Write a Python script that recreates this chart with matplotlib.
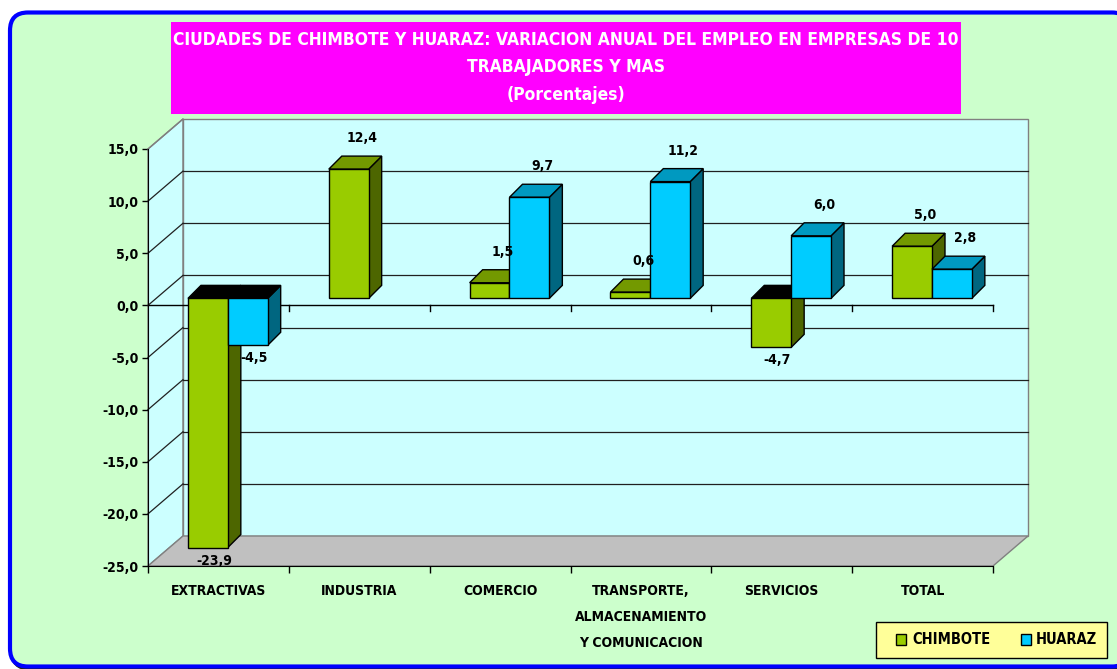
import matplotlib
matplotlib.use('Agg')
import matplotlib.pyplot as plt
from matplotlib import font_manager
from matplotlib.patches import FancyBboxPatch, Polygon, Rectangle
from matplotlib.ticker import FuncFormatter

# Data
categorias = ['EXTRACTIVAS', 'INDUSTRIA', 'COMERCIO',
              'TRANSPORTE,\nALMACENAMIENTO\nY COMUNICACION', 'SERVICIOS', 'TOTAL']
chimbote = [-23.9, 12.4, 1.5, 0.6, -4.7, 5.0]
huaraz = [-4.5, None, 9.7, 11.2, 6.0, 2.8]
series_names = ['CHIMBOTE', 'HUARAZ']
y_ticks = [-25, -20, -15, -10, -5, 0, 5, 10, 15]

# Colors (front, top, side)
colors = {
    'CHIMBOTE': ('#99CC00', '#739900', '#4D6600'),
    'HUARAZ': ('#00CCFF', '#0099C0', '#006680'),
}

# Pick a narrow font if there is one
installed = {f.name for f in font_manager.fontManager.ttflist}
if 'Liberation Sans Narrow' in installed:
    FONT = dict(family='Liberation Sans Narrow', weight='bold')
else:
    FONT = dict(family='DejaVu Sans', stretch='condensed', weight='bold')

W, H = 1117, 669
fig = plt.figure(figsize=(W / 100, H / 100), dpi=100)
fig.patch.set_facecolor('white')

# Background axes in pixel units
bg = fig.add_axes([0, 0, 1, 1])
bg.set_xlim(0, W)
bg.set_ylim(H, 0)
bg.axis('off')

# slight shadow + rounded green panel with blue border
bg.add_patch(FancyBboxPatch((12, 14.5), 1120, 654,
                            boxstyle='round,pad=0,rounding_size=18',
                            facecolor='none', edgecolor='#202020', linewidth=3))
bg.add_patch(FancyBboxPatch((10, 12.5), 1120, 654,
                            boxstyle='round,pad=0,rounding_size=18',
                            facecolor='#CCFFCC', edgecolor='#0000FF', linewidth=3))

# Title box
bg.add_patch(Rectangle((171, 22), 790, 92, facecolor='#FF00FF', edgecolor='none'))
title_lines = ['CIUDADES DE CHIMBOTE Y HUARAZ: VARIACION ANUAL DEL EMPLEO EN EMPRESAS DE 10',
               'TRABAJADORES Y MAS', '(Porcentajes)']
for y, line in zip([40, 67, 95], title_lines):
    bg.text(566, y, line, ha='center', va='center', color='white', fontsize=12.5, **FONT)

# Legend
bg.add_patch(Rectangle((876, 622), 231, 36, facecolor='#FFFF99', edgecolor='black', linewidth=1))
for (sx, tx), name in zip([(896, 912), (1021, 1036)], series_names):
    bg.add_patch(Rectangle((sx, 634), 10, 11, facecolor=colors[name][0], edgecolor='black', linewidth=1))
    bg.text(tx, 640, name, ha='left', va='center', fontsize=10.5, color='black', **FONT)

# Plot axes (front plane)
ax = fig.add_axes([148 / W, 1 - 566 / H, 845 / W, 417 / H])
ax.set_xlim(0, 6)
ax.set_ylim(-25, 15)
ax.patch.set_visible(False)

pos = ax.get_position()
px_x = 6 / (pos.width * W)    # data units per pixel
px_y = 40 / (pos.height * H)

# Depth of the walls and bars (pixels)
ddx, ddy = 35 * px_x, 30 * px_y
bx, by = 8 * px_x, 7 * px_y
dbx, dby = 13 * px_x, 13 * px_y

ymin, ymax = y_ticks[0], y_ticks[-1]
n = len(categorias)

# Walls
ax.add_patch(Polygon([(0, ymin), (0, ymax), (ddx, ymax + ddy), (ddx, ymin + ddy)],
                     facecolor='#CCFFFF', edgecolor='#808080', linewidth=1, clip_on=False, zorder=1))
ax.add_patch(Rectangle((ddx, ymin + ddy), n, ymax - ymin,
                       facecolor='#CCFFFF', edgecolor='#808080', linewidth=1, clip_on=False, zorder=1))
ax.add_patch(Polygon([(0, ymin), (n, ymin), (n + ddx, ymin + ddy), (ddx, ymin + ddy)],
                     facecolor='#C0C0C0', edgecolor='#808080', linewidth=1, clip_on=False, zorder=1))

# Gridlines on back and side walls
for v in y_ticks[1:-1]:
    ax.plot([ddx, n + ddx], [v + ddy, v + ddy], color='#202020', linewidth=0.9, clip_on=False, zorder=2)
    ax.plot([0, ddx], [v, v + ddy], color='#202020', linewidth=0.9, clip_on=False, zorder=2)
ax.plot([0, ddx], [ymax, ymax + ddy], color='#808080', linewidth=1, clip_on=False, zorder=2)

# Zero line at front with ticks
ax.plot([0, n], [0, 0], color='black', linewidth=1, clip_on=False, zorder=2)
for k in range(1, n + 1):
    ax.plot([k, k], [0, -6 * px_y], color='black', linewidth=1, clip_on=False, zorder=2)

# Bars
center, w = 0.51, 0.283
z = 3
for i in range(n):
    for j, (name, vals) in enumerate(zip(series_names, [chimbote, huaraz])):
        v = vals[i]
        if v is None:
            continue
        front, top, side = colors[name]
        x0 = i + center - w + j * w + bx
        ytop = max(v, 0) + by
        ax.add_patch(Polygon([(x0 + w, by), (x0 + w, v + by), (x0 + w + dbx, v + by + dby), (x0 + w + dbx, by + dby)],
                             facecolor=side, edgecolor='black', linewidth=1, clip_on=False, zorder=z))
        ax.add_patch(Polygon([(x0, ytop), (x0 + w, ytop), (x0 + w + dbx, ytop + dby), (x0 + dbx, ytop + dby)],
                             facecolor=top if v >= 0 else 'black', edgecolor='black', linewidth=1,
                             clip_on=False, zorder=z))
        ax.add_patch(Rectangle((x0, by), w, v, facecolor=front, edgecolor='black', linewidth=1,
                               clip_on=False, zorder=z))
        z += 1
        label = f'{v:.1f}'.replace('.', ',')
        if v >= 0:
            ax.text(x0 + w / 2 + 13 * px_x, v + by + 31 * px_y, label, ha='center', va='center',
                    fontsize=10, color='black', zorder=20, **FONT)
        else:
            ax.text(x0 + w / 2 + 6 * px_x, v + by - 13 * px_y, label, ha='center', va='center',
                    fontsize=10, color='black', zorder=20, **FONT)

# Axes, ticks and labels
for s in ['top', 'right']:
    ax.spines[s].set_visible(False)
ax.spines['left'].set_zorder(2)
ax.spines['bottom'].set_zorder(2)
ax.set_yticks(y_ticks)
ax.yaxis.set_major_formatter(FuncFormatter(lambda v, p: f'{v:.1f}'.replace('.', ',')))
ax.tick_params(axis='y', direction='out', length=4, width=1, pad=3, labelsize=10)
for t in ax.get_yticklabels():
    t.set_fontfamily(FONT['family'])
    t.set_fontweight('bold')
    if 'stretch' in FONT:
        t.set_fontstretch(FONT['stretch'])

ax.set_xticks([k + 0.5 for k in range(n)])
ax.set_xticklabels(categorias, linespacing=2.1, va='top')
ax.set_xticks(range(n + 1), minor=True)
ax.tick_params(axis='x', which='major', length=0, pad=13, labelsize=10)
ax.tick_params(axis='x', which='minor', direction='out', length=5, width=1)
for t in ax.get_xticklabels():
    t.set_fontfamily(FONT['family'])
    t.set_fontweight('bold')
    if 'stretch' in FONT:
        t.set_fontstretch(FONT['stretch'])

fig.savefig('out.png', dpi=100, facecolor='white')
